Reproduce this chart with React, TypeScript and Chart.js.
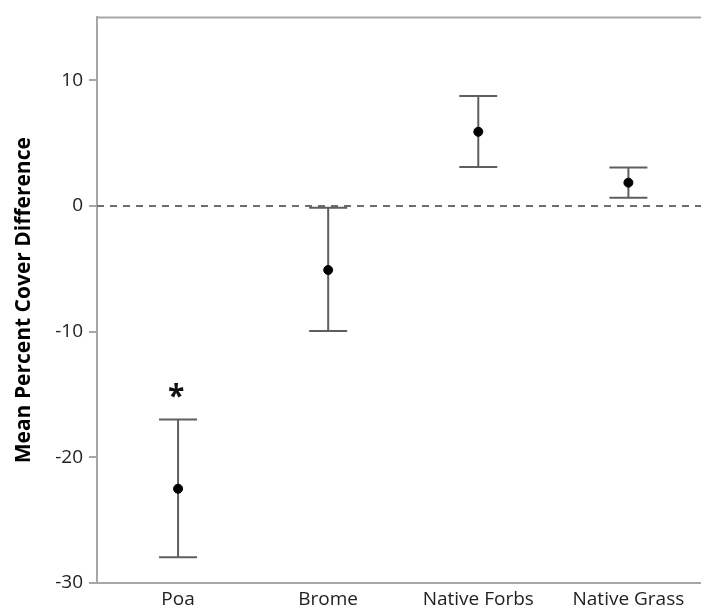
import React, { useEffect, useRef } from "react";
import { Chart, registerables } from "chart.js";

Chart.register(...registerables);

const categories = ["Poa", "Brome", "Native Forbs", "Native Grass"];
const means = [-22.5, -5.1, 5.9, 1.85];
const upper = [-17.0, -0.15, 8.75, 3.05];
const lower = [-27.95, -9.95, 3.1, 0.65];
const yTicks = [-30, -20, -10, 0, 10];
const significant = [true, false, false, false];
const starValue = -15;

const FONT = "'Open Sans', 'Noto Sans', sans-serif";
const AXIS_COLOR = "#a6a6a6";
const BAR_COLOR = "#5f5f5f";

const overlayPlugin = {
  id: "overlay",
  beforeDatasetsDraw(chart: any) {
    const { ctx, chartArea, scales } = chart;
    const x = scales.x;
    const y = scales.y;
    ctx.save();
    // top border
    ctx.strokeStyle = AXIS_COLOR;
    ctx.lineWidth = 2;
    ctx.setLineDash([]);
    ctx.beginPath();
    ctx.moveTo(chartArea.left - 1, chartArea.top);
    ctx.lineTo(chartArea.right, chartArea.top);
    ctx.stroke();
    // zero reference line
    const y0 = y.getPixelForValue(0);
    ctx.strokeStyle = "#6e6e6e";
    ctx.lineWidth = 2;
    ctx.setLineDash([7, 6]);
    ctx.beginPath();
    ctx.moveTo(chartArea.left, y0);
    ctx.lineTo(chartArea.right, y0);
    ctx.stroke();
    ctx.setLineDash([]);
    // error bars
    ctx.strokeStyle = BAR_COLOR;
    ctx.lineWidth = 2;
    const half = 19;
    categories.forEach((_, i) => {
      const px = x.getPixelForValue(i);
      const pu = y.getPixelForValue(upper[i]);
      const pl = y.getPixelForValue(lower[i]);
      ctx.beginPath();
      ctx.moveTo(px, pu);
      ctx.lineTo(px, pl);
      ctx.moveTo(px - half, pu);
      ctx.lineTo(px + half, pu);
      ctx.moveTo(px - half, pl);
      ctx.lineTo(px + half, pl);
      ctx.stroke();
    });
    // significance markers
    ctx.fillStyle = "#111";
    ctx.font = `bold 30px ${FONT}`;
    ctx.textAlign = "center";
    ctx.textBaseline = "alphabetic";
    categories.forEach((_, i) => {
      if (!significant[i]) return;
      const px = x.getPixelForValue(i);
      const py = y.getPixelForValue(starValue);
      ctx.fillText("*", px - 2, py + 12);
    });
    ctx.restore();
  },
};

export default function App() {
  const ref = useRef<HTMLCanvasElement | null>(null);
  useEffect(() => {
    if (!ref.current) return;
    const chart = new Chart(ref.current, {
      type: "scatter",
      data: {
        datasets: [
          {
            data: means.map((m, i) => ({ x: i, y: m })),
            backgroundColor: "#000",
            borderColor: "#000",
            pointRadius: 4.5,
            pointHoverRadius: 4.5,
          },
        ],
      },
      options: {
        animation: false,
        responsive: false,
        events: [],
        layout: { padding: { top: 13, right: 0, left: 0, bottom: 0 } },
        plugins: { legend: { display: false }, tooltip: { enabled: false } },
        scales: {
          x: {
            type: "linear",
            min: -0.54,
            max: 3.487,
            afterBuildTicks: (s: any) => {
              s.ticks = categories.map((_, i) => ({ value: i }));
            },
            afterFit: (s: any) => {
              s.height = 22;
              s.paddingLeft = 0;
              s.paddingRight = 0;
            },
            ticks: {
              autoSkip: false,
              maxRotation: 0,
              padding: 5,
              color: "#222",
              font: { family: FONT, size: 19 },
              callback: (v: any) => categories[v] ?? "",
            },
            grid: { display: true, drawOnChartArea: false, drawTicks: false, color: AXIS_COLOR },
            border: { display: true, color: AXIS_COLOR, width: 2 },
          },
          y: {
            type: "linear",
            min: -30,
            max: 15,
            afterBuildTicks: (s: any) => {
              s.ticks = yTicks.map((v) => ({ value: v }));
            },
            afterFit: (s: any) => {
              s.width = 97;
            },
            ticks: {
              padding: 6,
              color: "#222",
              font: { family: FONT, size: 19 },
            },
            grid: { display: true, drawOnChartArea: false, drawTicks: true, tickLength: 8, color: AXIS_COLOR, lineWidth: 2 },
            border: { display: true, color: AXIS_COLOR, width: 2 },
            title: {
              display: true,
              text: "Mean Percent Cover Difference",
              color: "#000",
              font: { family: FONT, size: 21, weight: "bold" },
              padding: { top: 11, bottom: 4 },
            },
          },
        },
      },
      plugins: [overlayPlugin],
    });
    return () => chart.destroy();
  }, []);
  return (
    <div style={{ position: "absolute", left: 0, top: 0, width: 701, height: 605, overflow: "hidden", background: "#fff" }}>
      <canvas ref={ref} width={707} height={605} style={{ display: "block" }} />
    </div>
  );
}
